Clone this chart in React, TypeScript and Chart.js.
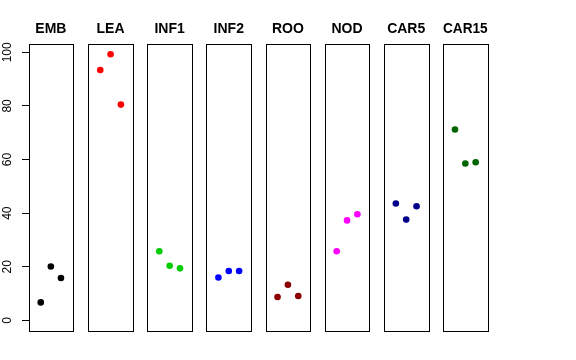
import React, { useEffect, useRef } from "react";
import { Chart, registerables } from "chart.js";

Chart.register(...registerables);

const CATEGORIES = ["EMB", "LEA", "INF1", "INF2", "ROO", "NOD", "CAR5", "CAR15"];
const REPLICATES = [1, 2, 3];
const EMB = [6.7, 20.1, 15.8];
const LEA = [93.4, 99.3, 80.5];
const INF1 = [25.8, 20.4, 19.4];
const INF2 = [16.0, 18.4, 18.4];
const ROO = [8.7, 13.3, 9.1];
const NOD = [25.8, 37.3, 39.6];
const CAR5 = [43.6, 37.6, 42.6];
const CAR15 = [71.2, 58.5, 59.0];
const SERIES = [EMB, LEA, INF1, INF2, ROO, NOD, CAR5, CAR15];
const COLORS = ["#000000", "#FF0000", "#00CD00", "#0000FF", "#8B0000", "#FF00FF", "#00008B", "#006400"];

const PANEL_LEFT0 = 29;
const PANEL_STRIDE = 59.14;
const PANEL_W = 44.7;
const AREA_TOP = 43.5;
const AREA_BOTTOM = 331;
const H = 360;
const TITLE_SIZE = 14;

const boxPlugin = {
  id: "panelBox",
  afterDatasetsDraw(chart: any) {
    const { ctx, chartArea } = chart;
    const l = Math.round(chartArea.left);
    const r = Math.round(chartArea.right);
    const t = Math.round(chartArea.top);
    const b = Math.round(chartArea.bottom);
    ctx.save();
    ctx.strokeStyle = "#000";
    ctx.lineWidth = 1;
    ctx.strokeRect(l + 0.5, t + 0.5, r - l, b - t);
    ctx.restore();
  },
};

function Panel({ index }: { index: number }) {
  const ref = useRef<HTMLCanvasElement>(null);
  const panelLeft = PANEL_LEFT0 + PANEL_STRIDE * index;
  const first = index === 0;
  const canvasLeft = first ? 0 : Math.floor(panelLeft) - 3;
  const canvasW = first ? 76 : 52;
  const padLeft = first ? 0 : panelLeft - canvasLeft;
  const padRight = canvasW - (panelLeft - canvasLeft) - PANEL_W;

  useEffect(() => {
    if (!ref.current) return;
    const chart = new Chart(ref.current, {
      type: "scatter",
      data: {
        datasets: [
          {
            data: REPLICATES.map((x, i) => ({ x, y: SERIES[index][i] })),
            backgroundColor: COLORS[index],
            borderWidth: 0,
            pointRadius: 3.3,
            pointHoverRadius: 3.3,
          },
        ],
      },
      options: {
        animation: false,
        responsive: false,
        devicePixelRatio: 1,
        events: [],
        layout: {
          padding: { top: 0, bottom: H - AREA_BOTTOM, left: padLeft, right: padRight },
        },
        plugins: {
          legend: { display: false },
          tooltip: { enabled: false },
          title: {
            display: true,
            text: CATEGORIES[index],
            fullSize: false,
            color: "#000",
            font: { family: "'Liberation Sans', Arial, sans-serif", size: TITLE_SIZE, weight: "bold", lineHeight: 1.2 },
            padding: { top: 21, bottom: AREA_TOP - 21 - TITLE_SIZE * 1.2 },
          },
        },
        scales: {
          x: {
            type: "linear",
            display: false,
            min: -0.16,
            max: 4.16,
          },
          y: {
            type: "linear",
            display: first,
            position: "left",
            min: -3.97,
            max: 103.3,
            afterFit: (scale: any) => {
              if (first) scale.width = PANEL_LEFT0;
            },
            border: { display: false },
            grid: {
              drawOnChartArea: false,
              drawTicks: true,
              tickLength: 7,
              color: "#000",
              lineWidth: 1,
            },
            ticks: {
              stepSize: 20,
              includeBounds: false,
              minRotation: 90,
              maxRotation: 90,
              crossAlign: "center",
              padding: 4,
              color: "#000",
              font: { family: "'Liberation Sans', Arial, sans-serif", size: 12 },
            },
          },
        },
      },
      plugins: [boxPlugin],
    } as any);
    return () => chart.destroy();
  }, [index]);

  return (
    <canvas
      ref={ref}
      width={canvasW}
      height={H}
      style={{ position: "absolute", left: canvasLeft, top: 0, width: canvasW, height: H }}
    />
  );
}

export default function App() {
  return (
    <div
      style={{
        position: "fixed",
        left: 0,
        top: 0,
        width: 576,
        height: 360,
        background: "#fff",
        overflow: "hidden",
      }}
    >
      {CATEGORIES.map((_, i) => (
        <Panel key={i} index={i} />
      ))}
    </div>
  );
}
